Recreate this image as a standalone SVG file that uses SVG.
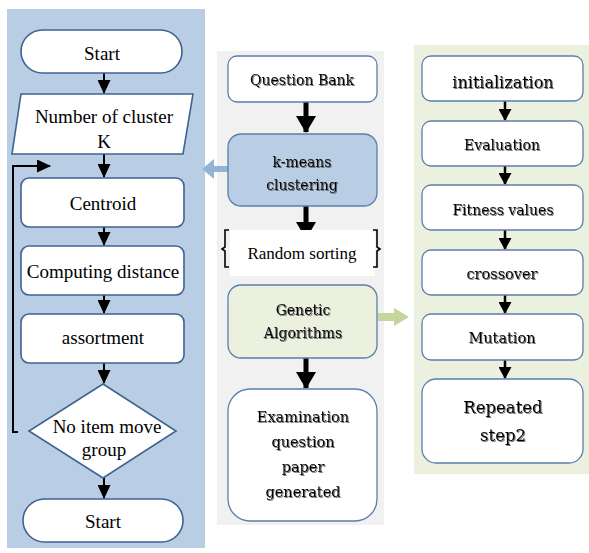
<svg xmlns="http://www.w3.org/2000/svg" width="589" height="553" viewBox="0 0 589 553">
<defs>
<style>
.tl{font-family:"Liberation Serif","Times New Roman",serif;font-size:19px;fill:#000;text-anchor:middle}
.tc{font-family:"DejaVu Serif",Cambria,serif;fill:#000;text-anchor:middle;filter:url(#sh)}
.bx{fill:#fff;stroke:#3f6391;stroke-width:1.6}
.bm{fill:#fff;stroke:#5a7fab;stroke-width:1.3}
.al{stroke:#000;stroke-width:2;fill:none}
.am{stroke:#000;stroke-width:5;fill:none}
.ar{stroke:#000;stroke-width:2.5;fill:none}
</style>
<filter id="sh" x="-10%" y="-30%" width="120%" height="160%">
<feDropShadow dx="1" dy="1" stdDeviation="0.6" flood-color="#555" flood-opacity="0.8"/>
</filter>
<marker id="hl" markerUnits="userSpaceOnUse" viewBox="0 0 14 13" refX="13" refY="6.5" markerWidth="14" markerHeight="13" orient="auto"><path d="M0,0 L14,6.5 L0,13 Z" fill="#000"/></marker>
<marker id="hm" markerUnits="userSpaceOnUse" viewBox="0 0 17 20" refX="16" refY="10" markerWidth="17" markerHeight="20" orient="auto"><path d="M0,0 L17,10 L0,20 Z" fill="#000"/></marker>
<marker id="hr" markerUnits="userSpaceOnUse" viewBox="0 0 12 13" refX="11" refY="6.5" markerWidth="12" markerHeight="13" orient="auto"><path d="M0,0 L12,6.5 L0,13 Z" fill="#000"/></marker>
</defs>

<!-- panels -->
<rect x="7" y="9" width="198" height="539" fill="#b9cde5"/>
<rect x="217" y="51" width="167" height="474" fill="#f1f1f1"/>
<rect x="414" y="45" width="176" height="429" fill="#ebf1de"/>

<!-- connectors -->
<g id="connectors">
<line class="al" x1="104" y1="73" x2="104" y2="93" marker-end="url(#hl)"/>
<line class="al" x1="104" y1="154" x2="104" y2="177" marker-end="url(#hl)"/>
<line class="al" x1="104" y1="227" x2="104" y2="245" marker-end="url(#hl)"/>
<line class="al" x1="104" y1="295" x2="104" y2="313" marker-end="url(#hl)"/>
<line class="al" x1="104" y1="363" x2="104" y2="383" marker-end="url(#hl)"/>
<line class="al" x1="104" y1="478" x2="104" y2="498" marker-end="url(#hl)"/>
<polyline class="al" points="18,432 13,432 13,166 50,166" marker-end="url(#hl)"/>

<line class="am" x1="306" y1="102" x2="306" y2="132" marker-end="url(#hm)"/>
<line class="am" x1="306" y1="206" x2="306" y2="238" marker-end="url(#hm)"/>
<line class="am" x1="306" y1="358" x2="306" y2="388" marker-end="url(#hm)"/>

<line class="ar" x1="505" y1="101" x2="505" y2="120" marker-end="url(#hr)"/>
<line class="ar" x1="505" y1="166" x2="505" y2="184" marker-end="url(#hr)"/>
<line class="ar" x1="505" y1="230" x2="505" y2="249" marker-end="url(#hr)"/>
<line class="ar" x1="505" y1="295" x2="505" y2="313" marker-end="url(#hr)"/>
<line class="ar" x1="505" y1="360" x2="505" y2="378" marker-end="url(#hr)"/>

<path d="M228,166 L214,166 L214,159 L202,169 L214,179 L214,172 L228,172 Z" fill="#95b3d7"/>
<path d="M378,313 L394,313 L394,308 L409,317 L394,326 L394,321 L378,321 Z" fill="#c3d69b"/>
</g>

<!-- left flowchart -->
<g id="start1"><rect class="bx" x="21" y="30" width="161" height="43" rx="21.5"/><text class="tl" x="102" y="60">Start</text></g>
<g id="numk"><polygon class="bx" points="21,94 193,94 183,154 12,154"/><text class="tl" x="104" y="123">Number of cluster</text><text class="tl" x="104" y="148">K</text></g>
<g id="centroid"><rect class="bx" x="21" y="178" width="163" height="49" rx="8"/><text class="tl" x="103" y="210">Centroid</text></g>
<g id="computing"><rect class="bx" x="21" y="246" width="163" height="49" rx="8"/><text class="tl" x="103" y="278">Computing distance</text></g>
<g id="assortment"><rect class="bx" x="21" y="314" width="163" height="49" rx="8"/><text class="tl" x="103" y="344">assortment</text></g>
<g id="decision"><polygon class="bx" points="103,384 176,431 103,478 29,431"/><text class="tl" x="107" y="433">No item move</text><text class="tl" x="104" y="456">group</text></g>
<g id="start2"><rect class="bx" x="23" y="499" width="160" height="43" rx="21.5"/><text class="tl" x="103" y="528">Start</text></g>

<!-- middle -->
<g id="qbank"><rect class="bm" x="228" y="56" width="149" height="46" rx="9"/><text class="tc" x="302" y="85" font-size="14">Question Bank</text></g>
<g id="kmeans"><rect x="228" y="134" width="149" height="72" rx="13" fill="#b9cde5" stroke="#5a7fab" stroke-width="1.3"/><text class="tc" x="302" y="167" font-size="14">k-means</text><text class="tc" x="302" y="190" font-size="14">clustering</text></g>
<g id="random"><rect x="230" y="230" width="145" height="46" fill="#fff"/>
<path d="M229,230 L225,230 L225,247 L222,249 L225,251 L225,267 L229,267" fill="none" stroke="#000" stroke-width="1.6"/>
<path d="M373,230 L377,230 L377,247 L380,249 L377,251 L377,267 L373,267" fill="none" stroke="#000" stroke-width="1.6"/>
<text x="302" y="259" font-family="Liberation Serif,Times New Roman,serif" font-size="17" text-anchor="middle" fill="#000">Random sorting</text></g>
<g id="genetic"><rect x="228" y="285" width="149" height="73" rx="13" fill="#ebf1de" stroke="#5a7fab" stroke-width="1.3"/><text class="tc" x="303" y="315" font-size="14">Genetic</text><text class="tc" x="303" y="338" font-size="14">Algorithms</text></g>
<g id="exam"><rect class="bm" x="228" y="389" width="149" height="132" rx="22"/>
<text class="tc" x="303" y="422" font-size="14.5">Examination</text>
<text class="tc" x="303" y="447" font-size="14.5">question</text>
<text class="tc" x="303" y="472" font-size="14.5">paper</text>
<text class="tc" x="303" y="497" font-size="14.5">generated</text></g>

<!-- right -->
<g id="init"><rect class="bm" x="422" y="56" width="161" height="45" rx="9"/><text class="tc" x="503" y="88" font-size="16">initialization</text></g>
<g id="eval"><rect class="bm" x="422" y="121" width="161" height="45" rx="9"/><text class="tc" x="502" y="150" font-size="14">Evaluation</text></g>
<g id="fitness"><rect class="bm" x="422" y="185" width="161" height="45" rx="9"/><text class="tc" x="503" y="215" font-size="14">Fitness values</text></g>
<g id="crossover"><rect class="bm" x="422" y="250" width="161" height="45" rx="9"/><text class="tc" x="502" y="279" font-size="14.5">crossover</text></g>
<g id="mutation"><rect class="bm" x="422" y="314" width="161" height="46" rx="9"/><text class="tc" x="502" y="343" font-size="14.5">Mutation</text></g>
<g id="repeated"><rect class="bm" x="422" y="379" width="161" height="84" rx="14"/><text class="tc" x="503" y="413" font-size="16.5">Repeated</text><text class="tc" x="503" y="441" font-size="16.5">step2</text></g>
</svg>
